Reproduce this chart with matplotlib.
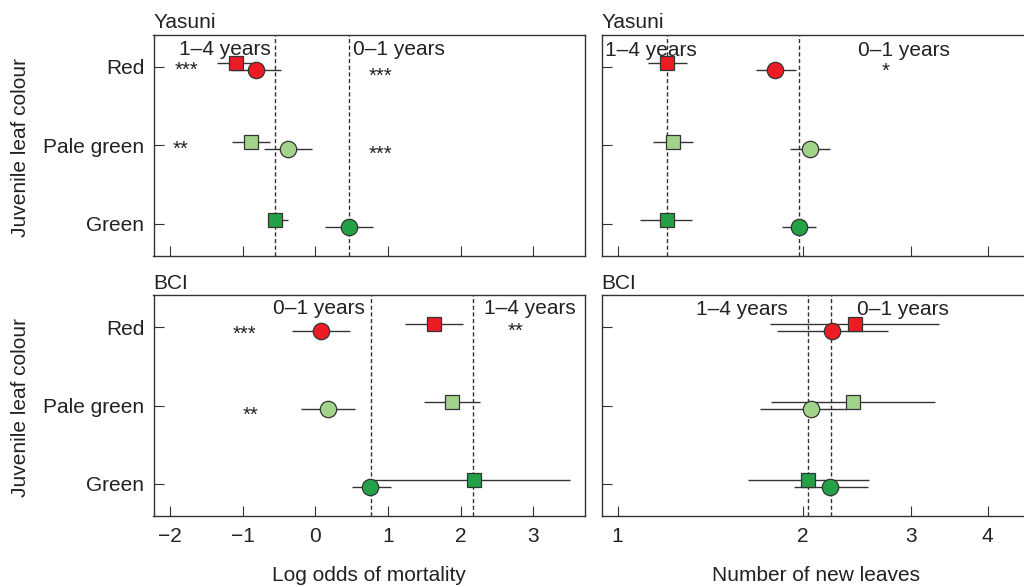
import matplotlib
matplotlib.use('Agg')
import matplotlib.pyplot as plt
import matplotlib.transforms as mtransforms
from matplotlib.ticker import FixedLocator, FixedFormatter, NullLocator

plt.rcParams['font.family'] = ['Liberation Sans', 'DejaVu Sans']

# ---------------- data ----------------
colours = ['Red', 'Pale green', 'Green']
colour_fill = ['#ED1C24', '#A2D38B', '#24A146']
row_y = [3, 2, 1]

# Yasuni - log odds of mortality
yas_mort_01 = [-0.82, -0.38, 0.46]
yas_mort_01_lo = [-1.17, -0.71, 0.13]
yas_mort_01_hi = [-0.47, -0.05, 0.79]
yas_mort_14 = [-1.10, -0.885, -0.555]
yas_mort_14_lo = [-1.36, -1.15, -0.65]
yas_mort_14_hi = [-0.85, -0.63, -0.38]
yas_mort_mean_01 = 0.46
yas_mort_mean_14 = -0.555

# Yasuni - number of new leaves
yas_leaf_01 = [1.805, 2.058, 1.97]
yas_leaf_01_lo = [1.679, 1.91, 1.853]
yas_leaf_01_hi = [1.949, 2.22, 2.104]
yas_leaf_14 = [1.204, 1.230, 1.201]
yas_leaf_14_lo = [1.119, 1.143, 1.087]
yas_leaf_14_hi = [1.298, 1.326, 1.321]
yas_leaf_mean_01 = 1.97
yas_leaf_mean_14 = 1.204

# BCI - log odds of mortality
bci_mort_01 = [0.069, 0.17, 0.757]
bci_mort_01_lo = [-0.33, -0.20, 0.50]
bci_mort_01_hi = [0.47, 0.55, 1.04]
bci_mort_14 = [1.63, 1.885, 2.18]
bci_mort_14_lo = [1.23, 1.50, 0.79]
bci_mort_14_hi = [2.03, 2.26, 3.51]
bci_mort_mean_01 = 0.77
bci_mort_mean_14 = 2.17

# BCI - number of new leaves
bci_leaf_01 = [2.235, 2.061, 2.218]
bci_leaf_01_lo = [1.814, 1.704, 1.936]
bci_leaf_01_hi = [2.75, 2.36, 2.552]
bci_leaf_14 = [2.432, 2.417, 2.042]
bci_leaf_14_lo = [1.769, 1.78, 1.631]
bci_leaf_14_hi = [3.337, 3.28, 2.568]
bci_leaf_mean_01 = 2.221
bci_leaf_mean_14 = 2.042

mort_ticks = [-2, -1, 0, 1, 2, 3]
mort_ticklabels = ['\u22122', '\u22121', '0', '1', '2', '3']
leaf_ticks = [1, 2, 3, 4]
leaf_ticklabels = ['1', '2', '3', '4']

# ---------------- figure ----------------
W, H = 1024, 587
fig = plt.figure(figsize=(W / 100, H / 100), dpi=100)
INK = '#333333'


def px_axes(x0, x1, y0, y1):
    return fig.add_axes([x0 / W, 1 - y1 / H, (x1 - x0) / W, (y1 - y0) / H])


def draw_panel(ax, e01, lo01, hi01, e14, lo14, hi14, m01, m14):
    ax.axvline(m01, color=INK, lw=1.0, ls=(0, (3, 1.8)), zorder=1)
    ax.axvline(m14, color=INK, lw=1.0, ls=(0, (3, 1.8)), zorder=1)
    ysq = [y + 0.045 for y in row_y]
    yci = [y - 0.045 for y in row_y]
    ax.hlines(ysq, lo14, hi14, color=INK, lw=1.0, zorder=2)
    ax.hlines(yci, lo01, hi01, color=INK, lw=1.0, zorder=2)
    for i in range(len(colours)):
        ax.plot(e14[i], ysq[i], marker='s', ms=10.5, mfc=colour_fill[i],
                mec=INK, mew=0.9, ls='none', zorder=3)
    for i in range(len(colours)):
        ax.plot(e01[i], yci[i], marker='o', ms=11.8, mfc=colour_fill[i],
                mec=INK, mew=0.9, ls='none', zorder=4)
    ax.set_ylim(0.59, 3.41)
    ax.yaxis.set_major_locator(FixedLocator(row_y))
    ax.tick_params(direction='in', length=7, width=0.8, color=INK,
                   labelsize=15, labelcolor='#222222')
    ax.tick_params(axis='y', pad=6.5)
    ax.tick_params(axis='x', pad=8)
    for s in ax.spines.values():
        s.set_color(INK)
        s.set_linewidth(1.0)


def years_label(ax, text, x, y, ha='left'):
    ax.text(x, y, text, ha=ha, va='baseline', fontsize=15, color='#222222', zorder=5)


def stars(ax, text, x, y):
    tr = mtransforms.offset_copy(ax.transData, fig=fig, y=-6, units='points')
    ax.text(x, y, text, ha='center', va='baseline', fontsize=14.5,
            color='#222222', transform=tr, zorder=5)


Lx = (153.5, 585)
Rx = (601.7, 1030)
Ty = (34.7, 256)
By = (295, 516)

ax_tl = px_axes(Lx[0], Lx[1], Ty[0], Ty[1])
ax_tr = px_axes(Rx[0], Rx[1], Ty[0], Ty[1])
ax_bl = px_axes(Lx[0], Lx[1], By[0], By[1])
ax_br = px_axes(Rx[0], Rx[1], By[0], By[1])

draw_panel(ax_tl, yas_mort_01, yas_mort_01_lo, yas_mort_01_hi,
           yas_mort_14, yas_mort_14_lo, yas_mort_14_hi,
           yas_mort_mean_01, yas_mort_mean_14)
draw_panel(ax_tr, yas_leaf_01, yas_leaf_01_lo, yas_leaf_01_hi,
           yas_leaf_14, yas_leaf_14_lo, yas_leaf_14_hi,
           yas_leaf_mean_01, yas_leaf_mean_14)
draw_panel(ax_bl, bci_mort_01, bci_mort_01_lo, bci_mort_01_hi,
           bci_mort_14, bci_mort_14_lo, bci_mort_14_hi,
           bci_mort_mean_01, bci_mort_mean_14)
draw_panel(ax_br, bci_leaf_01, bci_leaf_01_lo, bci_leaf_01_hi,
           bci_leaf_14, bci_leaf_14_lo, bci_leaf_14_hi,
           bci_leaf_mean_01, bci_leaf_mean_14)

for ax in (ax_tl, ax_bl):
    ax.set_xlim(-2.23, 3.71)
    ax.xaxis.set_major_locator(FixedLocator(mort_ticks))
    ax.xaxis.set_major_formatter(FixedFormatter(mort_ticklabels))
    ax.yaxis.set_major_formatter(FixedFormatter(colours))
    ax.set_ylabel('Juvenile leaf colour', fontsize=15, color='#222222')
    ax.yaxis.set_label_coords(-0.287, 0.49)

for ax in (ax_tr, ax_br):
    ax.set_xscale('log')
    ax.set_xlim(0.942, 4.69)
    ax.xaxis.set_major_locator(FixedLocator(leaf_ticks))
    ax.xaxis.set_major_formatter(FixedFormatter(leaf_ticklabels))
    ax.xaxis.set_minor_locator(NullLocator())
    ax.tick_params(axis='y', labelleft=False)

for ax in (ax_tl, ax_tr):
    ax.tick_params(axis='x', labelbottom=False)

ax_bl.set_xlabel('Log odds of mortality', fontsize=15, color='#222222')
ax_br.set_xlabel('Number of new leaves', fontsize=15, color='#222222')
ax_bl.xaxis.set_label_coords(0.5, -0.225)
ax_br.xaxis.set_label_coords(0.5, -0.225)

for ax, t in ((ax_tl, 'Yasuni'), (ax_tr, 'Yasuni'), (ax_bl, 'BCI'), (ax_br, 'BCI')):
    ax.set_title(t, loc='left', fontsize=15, pad=4.6, color='#222222')

# "years" labels
years_label(ax_tl, '1\u20134 years', -1.88, 3.152)
years_label(ax_tl, '0\u20131 years', 0.52, 3.152)
years_label(ax_tr, '1\u20134 years', 0.953, 3.14)
years_label(ax_tr, '0\u20131 years', 2.464, 3.14)
years_label(ax_bl, '0\u20131 years', 0.674, 3.163, ha='right')
years_label(ax_bl, '1\u20134 years', 2.325, 3.163)
years_label(ax_br, '1\u20134 years', 1.341, 3.15)
years_label(ax_br, '0\u20131 years', 2.448, 3.15)

# significance stars
stars(ax_tl, '***', -1.77, 2.99)
stars(ax_tl, '***', 0.90, 2.91)
stars(ax_tl, '**', -1.86, 1.99)
stars(ax_tl, '***', 0.90, 1.92)
stars(ax_tr, '*', 2.73, 2.98)
stars(ax_bl, '***', -0.985, 2.94)
stars(ax_bl, '**', 2.76, 2.98)
stars(ax_bl, '**', -0.89, 1.915)

fig.savefig('out.png', dpi=100)
